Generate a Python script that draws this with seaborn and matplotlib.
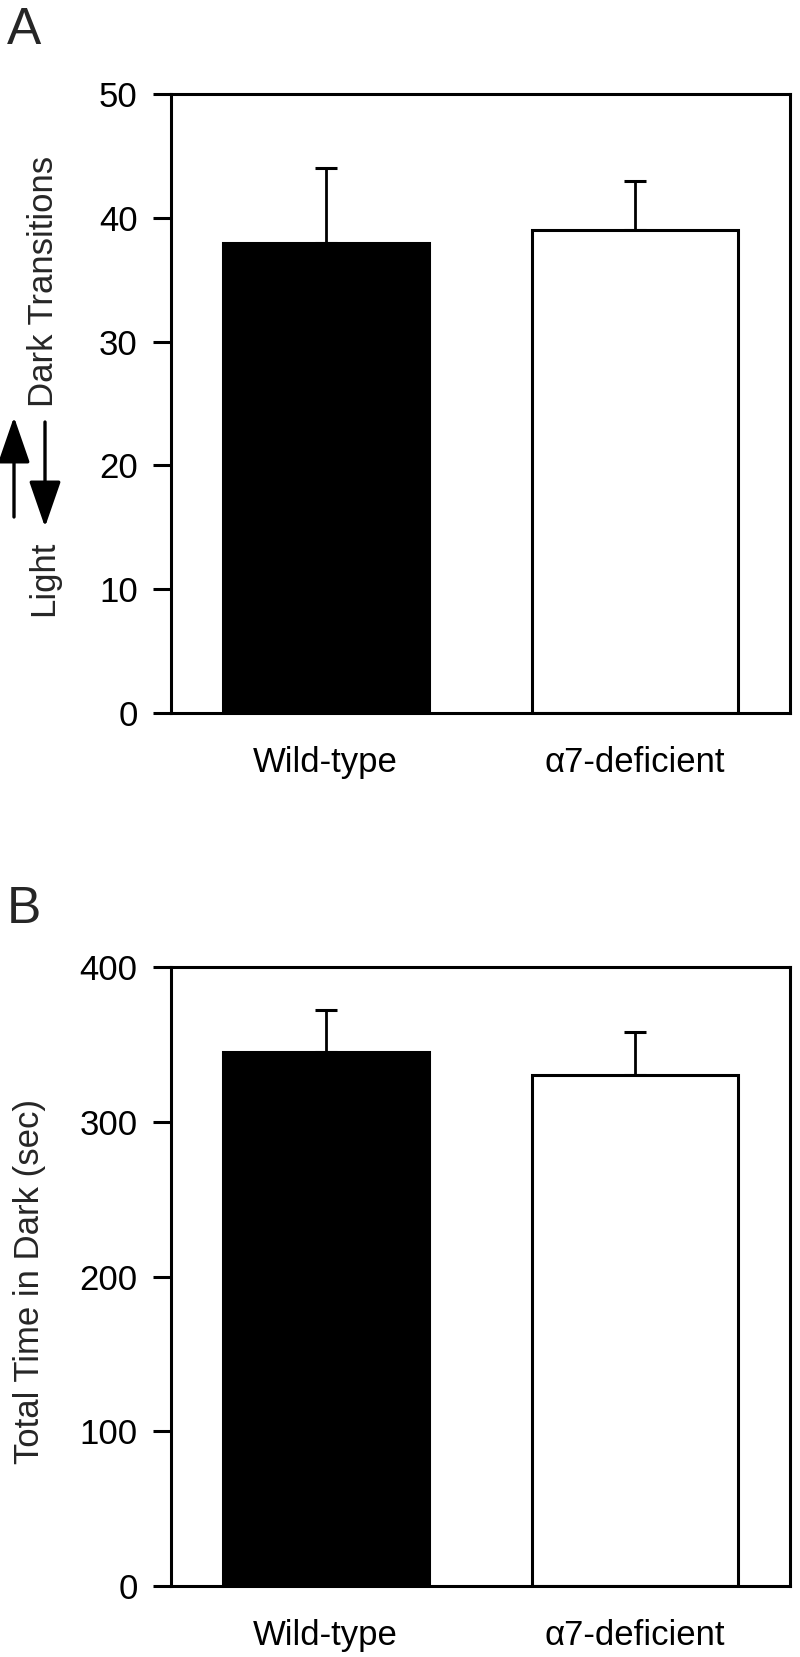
import matplotlib
matplotlib.use("Agg")
import matplotlib.pyplot as plt
import seaborn as sns
import pandas as pd

# data
groups = ["Wild-type", "\u03b17-deficient"]
transitions = [38, 39]
transitions_sem = [6, 4]
time_dark = [345, 330]
time_dark_sem = [27, 28]
bar_colors = ["black", "white"]

sns.set_theme(style="ticks")
plt.rcParams["font.family"] = ["Liberation Sans", "DejaVu Sans"]

W, H = 800, 1657
fig = plt.figure(figsize=(W / 100, H / 100), dpi=100)


def px_axes(left, top, right, bottom):
    return fig.add_axes([left / W, 1 - bottom / H, (right - left) / W, (bottom - top) / H])


def draw_panel(ax, values, sem, ymax, step):
    df = pd.DataFrame({"group": groups, "value": values})
    sns.barplot(data=df, x="group", y="value", hue="group", palette=bar_colors,
                edgecolor="black", linewidth=2.2, width=0.665, errorbar=None,
                legend=False, ax=ax, zorder=2)
    ax.errorbar(range(len(values)), values, yerr=[[0] * len(sem), sem],
                fmt="none", ecolor="black", elinewidth=2.0, capsize=8,
                capthick=2.2, zorder=1)
    ax.set_xlim(-0.5, 1.5)
    ax.set_ylim(0, ymax)
    ax.set_yticks(range(0, ymax + 1, step))
    ax.set_xlabel("")
    ax.set_ylabel("")
    for s in ax.spines.values():
        s.set_linewidth(2.2)
        s.set_color("black")
        s.set_visible(True)
    ax.tick_params(axis="y", direction="out", length=13, width=2.2,
                   labelsize=25, pad=11, colors="black")
    ax.tick_params(axis="x", length=0, labelsize=25, pad=24, colors="black")


axA = px_axes(171, 94, 790, 713)
draw_panel(axA, transitions, transitions_sem, 50, 10)

axB = px_axes(171, 967, 790, 1586)
draw_panel(axB, time_dark, time_dark_sem, 400, 100)

# panel letters
fig.text(7 / W, 1 - 44 / H, "A", fontsize=37, ha="left", va="baseline")
fig.text(7 / W, 1 - 923 / H, "B", fontsize=37, ha="left", va="baseline")

# y label of panel A: Light <-> Dark Transitions
fig.text(44 / W, 1 - 578 / H, "Light", fontsize=25, rotation=90,
         ha="center", va="center")
fig.text(44 / W, 1 - 281 / H, "Dark Transitions", fontsize=25, rotation=90,
         ha="center", va="center")
arrow_kw = dict(arrowstyle="-|>,head_length=1.3,head_width=0.45", lw=2.4,
                color="black", shrinkA=0, shrinkB=0, mutation_scale=22)
fig.add_artist(matplotlib.patches.FancyArrowPatch(
    (14 / W, 1 - 517 / H), (14 / W, 1 - 417 / H),
    transform=fig.transFigure, **arrow_kw))
fig.add_artist(matplotlib.patches.FancyArrowPatch(
    (45 / W, 1 - 422 / H), (45 / W, 1 - 527 / H),
    transform=fig.transFigure, **arrow_kw))

# y label of panel B
fig.text(30 / W, 1 - 1282 / H, "Total Time in Dark (sec)", fontsize=25,
         rotation=90, ha="center", va="center")

fig.savefig("out.png", dpi=100)
